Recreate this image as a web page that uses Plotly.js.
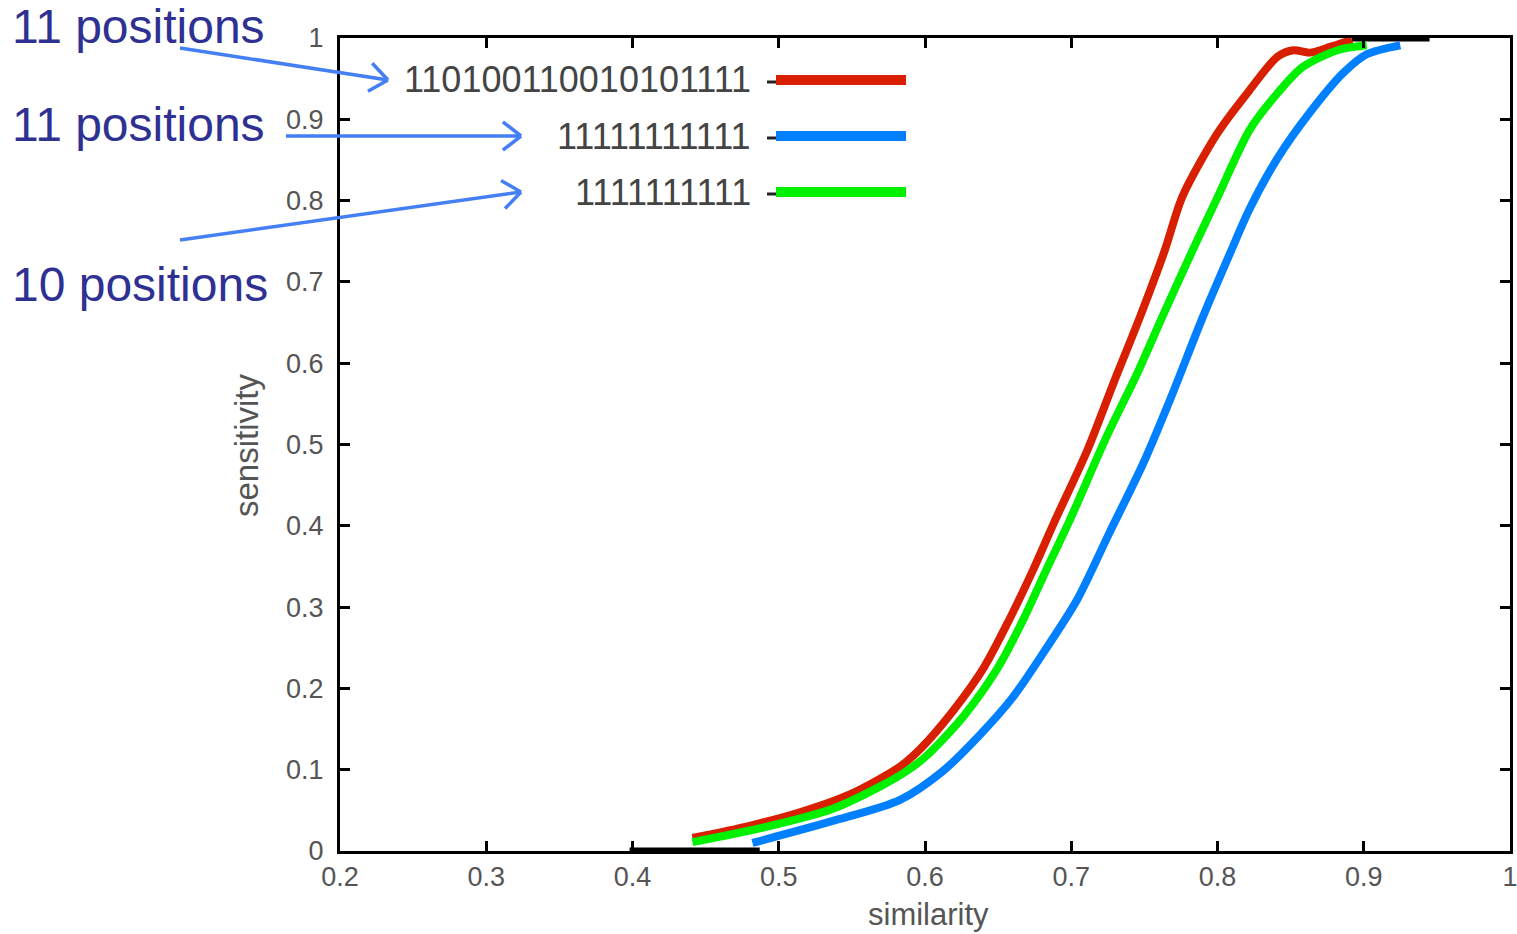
<!DOCTYPE html>
<html>
<head>
<meta charset="utf-8">
<script src="https://cdn.plot.ly/plotly-3.0.1.min.js"></script>
<style>html,body{margin:0;padding:0;background:#fff;}#chart{width:1517px;height:934px;}</style>
</head>
<body>
<div id="chart"></div>
<script>
// ---- data ----
const seedLabels = ["110100110010101111", "11111111111", "1111111111"];
const seedColors = ["#d82000", "#0080ff", "#00f000"];
const annotationTexts = ["11 positions", "11 positions", "10 positions"];

const redX = [0.441, 0.480, 0.515, 0.549, 0.583, 0.597, 0.619, 0.640, 0.658, 0.674, 0.688, 0.711, 0.729, 0.747, 0.764, 0.776, 0.800, 0.822, 0.841, 0.852, 0.863, 0.877, 0.892];
const redY = [0.016, 0.031, 0.048, 0.070, 0.104, 0.126, 0.172, 0.225, 0.286, 0.346, 0.403, 0.493, 0.576, 0.657, 0.739, 0.805, 0.883, 0.936, 0.977, 0.985, 0.982, 0.989, 0.998];

const greenX = [0.441, 0.492, 0.537, 0.571, 0.588, 0.601, 0.626, 0.649, 0.667, 0.683, 0.699, 0.724, 0.745, 0.763, 0.783, 0.800, 0.822, 0.841, 0.858, 0.882, 0.902];
const greenY = [0.011, 0.030, 0.052, 0.081, 0.099, 0.117, 0.165, 0.223, 0.284, 0.346, 0.407, 0.509, 0.587, 0.660, 0.739, 0.804, 0.887, 0.932, 0.964, 0.985, 0.991];

const blueX = [0.482, 0.537, 0.583, 0.612, 0.636, 0.660, 0.681, 0.704, 0.726, 0.749, 0.768, 0.790, 0.809, 0.822, 0.841, 0.863, 0.886, 0.902, 0.925];
const blueY = [0.010, 0.037, 0.063, 0.098, 0.140, 0.189, 0.244, 0.309, 0.391, 0.476, 0.557, 0.657, 0.737, 0.790, 0.852, 0.908, 0.957, 0.980, 0.991];

// black gnuplot segments visible at the ends
const baseX = [0.398, 0.487];
const baseY = [0.0, 0.0];
const topX = [0.892, 0.945];
const topY = [1.0, 1.0];

const xTicks = [0.2, 0.3, 0.4, 0.5, 0.6, 0.7, 0.8, 0.9, 1];
const xTickText = ["0.2", "0.3", "0.4", "0.5", "0.6", "0.7", "0.8", "0.9", "1"];
const yTicks = [0, 0.1, 0.2, 0.3, 0.4, 0.5, 0.6, 0.7, 0.8, 0.9, 1];
const yTickText = ["0", "0.1", "0.2", "0.3", "0.4", "0.5", "0.6", "0.7", "0.8", "0.9", "1"];

// ---- layout helpers (pixel -> paper) ----
const L = 340, R = 1510, T = 38, B = 851;
const PX = p => (p - L) / (R - L);
const PY = p => (B - p) / (B - T);

const traces = [
  {x: baseX, y: baseY, mode: "lines", line: {color: "#000", width: 7}, hoverinfo: "skip", showlegend: false},
  {x: topX, y: topY, mode: "lines", line: {color: "#000", width: 7}, hoverinfo: "skip", showlegend: false},
  {x: blueX, y: blueY, mode: "lines", line: {color: seedColors[1], width: 8, shape: "spline", smoothing: 0.8}, name: seedLabels[1], showlegend: false},
  {x: redX, y: redY, mode: "lines", line: {color: seedColors[0], width: 8, shape: "spline", smoothing: 0.8}, name: seedLabels[0], showlegend: false},
  {x: greenX, y: greenY, mode: "lines", line: {color: seedColors[2], width: 8, shape: "spline", smoothing: 0.8}, name: seedLabels[2], showlegend: false}
];

const shapes = [];
const annotations = [];
const textFont = "Liberation Sans, Arial, sans-serif";

// legend
const legendRows = [80, 136, 192];
legendRows.forEach((py, i) => {
  shapes.push({type: "line", xref: "paper", yref: "paper", x0: PX(767), x1: PX(778), y0: PY(py + 2), y1: PY(py + 2), line: {color: "#222", width: 3}});
  shapes.push({type: "line", xref: "paper", yref: "paper", x0: PX(776), x1: PX(906), y0: PY(py), y1: PY(py), line: {color: seedColors[i], width: 10}});
  annotations.push({xref: "paper", yref: "paper", x: PX(753), y: PY(py), xanchor: "right", yanchor: "middle", showarrow: false,
    text: seedLabels[i], font: {family: textFont, size: 36, color: "#444"}});
});

// blue callout texts
const calloutY = [27, 124, 284];
calloutY.forEach((py, i) => {
  annotations.push({xref: "paper", yref: "paper", x: PX(10), y: PY(py), xanchor: "left", yanchor: "middle", showarrow: false,
    text: annotationTexts[i], font: {family: textFont, size: 48, color: "#2e3192"}});
});

// arrows (line + open chevron)
function arrow(x0, y0, x1, y1) {
  const dx = x1 - x0, dy = y1 - y0, len = Math.hypot(dx, dy);
  const ux = -dx / len, uy = -dy / len, a = 38 * Math.PI / 180, s = 23;
  const c = Math.cos(a), sn = Math.sin(a);
  const p1 = [x1 + s * (ux * c - uy * sn), y1 + s * (ux * sn + uy * c)];
  const p2 = [x1 + s * (ux * c + uy * sn), y1 + s * (-ux * sn + uy * c)];
  const st = {color: "#447ff5", width: 3.5};
  shapes.push({type: "line", xref: "paper", yref: "paper", x0: PX(x0), y0: PY(y0), x1: PX(x1), y1: PY(y1), line: st});
  shapes.push({type: "line", xref: "paper", yref: "paper", x0: PX(p1[0]), y0: PY(p1[1]), x1: PX(x1), y1: PY(y1), line: st});
  shapes.push({type: "line", xref: "paper", yref: "paper", x0: PX(p2[0]), y0: PY(p2[1]), x1: PX(x1), y1: PY(y1), line: st});
}
arrow(180, 48, 388, 80);
arrow(286, 136, 521, 136);
arrow(180, 240, 521, 192);

// axis titles
annotations.push({xref: "paper", yref: "paper", x: PX(928), y: PY(914), xanchor: "center", yanchor: "middle", showarrow: false,
  text: "similarity", font: {family: textFont, size: 31, color: "#555"}});
annotations.push({xref: "paper", yref: "paper", x: PX(246), y: PY(445), xanchor: "center", yanchor: "middle", showarrow: false, textangle: -90,
  text: "sensitivity", font: {family: textFont, size: 33, color: "#555"}});

const tickFont = {family: textFont, size: 27, color: "#555"};

const layout = {
  width: 1517, height: 934,
  margin: {l: L, r: 1517 - R, t: T, b: 934 - B, pad: 0},
  paper_bgcolor: "#fff", plot_bgcolor: "#fff",
  showlegend: false,
  xaxis: {range: [0.2, 1], tickvals: xTicks, ticktext: xTickText, ticks: "inside", ticklen: 10, tickwidth: 3, tickcolor: "#000",
    showline: true, linewidth: 3, linecolor: "#000", mirror: "ticks", showgrid: false, zeroline: false, tickfont: tickFont,
    ticklabelstandoff: 0, ticklabeloverflow: "allow"},
  yaxis: {range: [0, 1], tickvals: yTicks, ticktext: yTickText, ticks: "inside", ticklen: 10, tickwidth: 3, tickcolor: "#000",
    showline: true, linewidth: 3, linecolor: "#000", mirror: "ticks", showgrid: false, zeroline: false, tickfont: tickFont,
    ticklabelstandoff: 8, ticklabeloverflow: "allow"},
  shapes: shapes,
  annotations: annotations
};

Plotly.newPlot("chart", traces, layout, {displayModeBar: false, staticPlot: true});
</script>
</body>
</html>
